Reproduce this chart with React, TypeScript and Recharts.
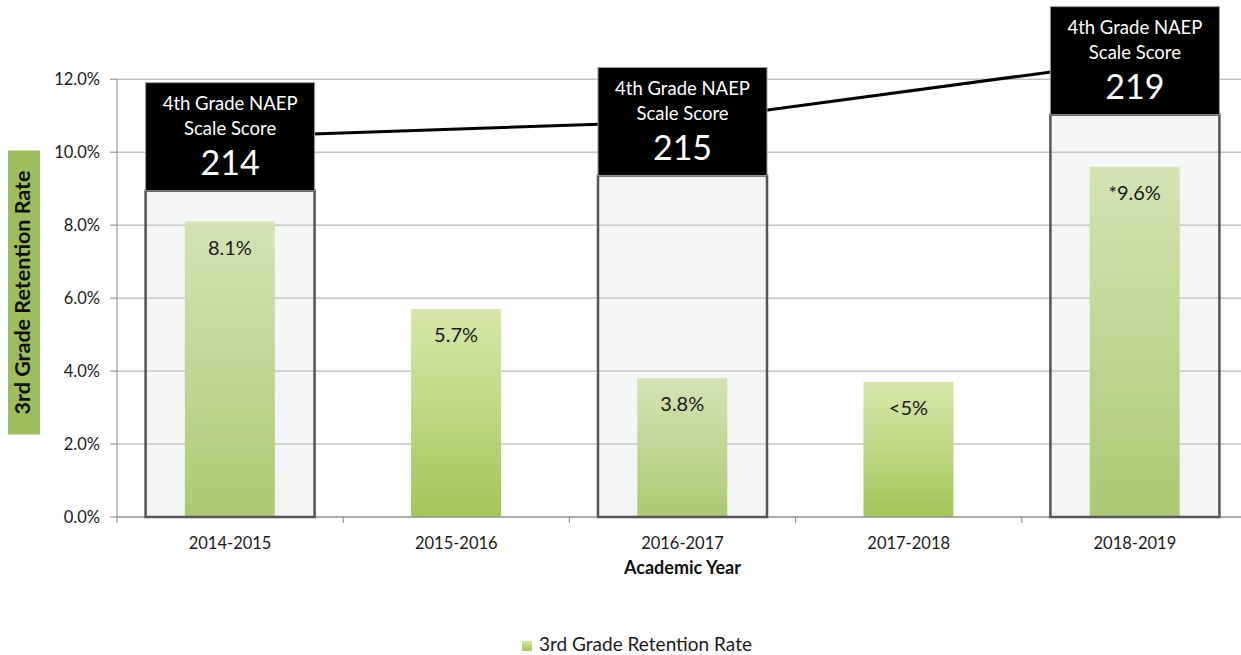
import React from 'react';
import * as Recharts from 'recharts';
import {
  ComposedChart, Bar, Line, XAxis, YAxis, CartesianGrid, Legend, LabelList, Label, ReferenceLine,
} from 'recharts';

const years = ['2014-2015', '2015-2016', '2016-2017', '2017-2018', '2018-2019'];
const retentionRate = [8.1, 5.7, 3.8, 3.7, 9.6];
const rateLabels = ['8.1%', '5.7%', '3.8%', '<5%', '*9.6%'];
const naepScores: (number | null)[] = [214, null, 215, null, 219];
const yTicks = [0, 2, 4, 6, 8, 10, 12];
const headerLines = ['4th Grade NAEP', 'Scale Score'];
const naepDomain: [number, number] = [189, 219.7];

const data = years.map((year, i) => ({
  year,
  rate: retentionRate[i],
  label: rateLabels[i],
  naep: naepScores[i],
}));

const FONT = 'Lato, "Open Sans", sans-serif';
const BOX_W = 169;
const BOX_H = 108;

const usePlotArea: () => any = (Recharts as any).usePlotArea ?? (() => null);

const NaepBox = (props: any) => {
  const { cx, cy, value, points } = props;
  const area = usePlotArea();
  if (cx == null || cy == null || value == null) return null;

  let bottom = area ? area.y + area.height : 0;
  if (!area && points) {
    const valid = points.filter((p: any) => p.value != null && p.y != null);
    const a = valid[0];
    const b = valid[valid.length - 1];
    const per = (a.y - b.y) / (b.value - a.value);
    bottom = cy + (value - naepDomain[0]) * per;
  }

  const left = cx - BOX_W / 2;
  const top = cy - BOX_H / 2;
  return (
    <g>
      <rect
        x={left}
        y={top + BOX_H}
        width={BOX_W}
        height={bottom - top - BOX_H}
        fill="rgba(205,214,214,0.22)"
        stroke="#555"
        strokeWidth={2.5}
      />
      <rect x={left} y={top} width={BOX_W} height={BOX_H} fill="#000" stroke="#9a9a9a" strokeWidth={1} />
      <text x={cx} y={cy - 31} fill="#fff" fontSize={18.5} fontFamily={FONT} textAnchor="middle" dominantBaseline="middle">
        {headerLines[0]}
      </text>
      <text x={cx} y={cy - 6} fill="#fff" fontSize={18.5} fontFamily={FONT} textAnchor="middle" dominantBaseline="middle">
        {headerLines[1]}
      </text>
      <text x={cx} y={cy + 30} fill="#fff" fontSize={34} fontFamily={FONT} textAnchor="middle" dominantBaseline="middle">
        {value}
      </text>
    </g>
  );
};

const BarLabel = (props: any) => {
  const { x, y, width, value } = props;
  return (
    <text x={x + width / 2} y={y + 28} fill="#1a1a1a" fontSize={20} fontFamily={FONT} textAnchor="middle" dominantBaseline="middle">
      {value}
    </text>
  );
};

const YearTick = (props: any) => {
  const { x, y, payload, width, visibleTicksCount, index } = props;
  const half = width / visibleTicksCount / 2;
  const axisY = y - 8;
  return (
    <g>
      {index === 0 && <line x1={x - half} x2={x - half} y1={axisY} y2={axisY + 6} stroke="#888" />}
      <line x1={x + half} x2={x + half} y1={axisY} y2={axisY + 6} stroke="#888" />
      <text x={x} y={y + 20} fill="#1a1a1a" fontSize={16.5} fontFamily={FONT} textAnchor="middle" dominantBaseline="middle">
        {payload.value}
      </text>
    </g>
  );
};

const YTitle = (props: any) => {
  const { viewBox } = props;
  const cx = viewBox.x + 24;
  const cy = viewBox.y + viewBox.height / 2 + 9;
  return (
    <g>
      <rect x={cx - 16} y={cy - 142} width={32} height={284} fill="#9dbd5f" />
      <text
        x={cx}
        y={cy}
        transform={`rotate(-90, ${cx}, ${cy})`}
        fontSize={21.5}
        fontWeight="bold"
        fontFamily={FONT}
        fill="#111"
        textAnchor="middle"
        dominantBaseline="middle"
      >
        3rd Grade Retention Rate
      </text>
    </g>
  );
};

const XTitle = (props: any) => {
  const { viewBox } = props;
  return (
    <text
      x={viewBox.x + viewBox.width / 2}
      y={viewBox.y + 52}
      fontSize={18}
      fontWeight="bold"
      fontFamily={FONT}
      fill="#111"
      textAnchor="middle"
      dominantBaseline="middle"
    >
      Academic Year
    </text>
  );
};

const LegendContent = () => (
  <div style={{ width: '100%', height: 40, textAlign: 'center', paddingLeft: 26, boxSizing: 'border-box', paddingTop: 17 }}>
    <span style={{ display: 'inline-block', width: 10, height: 10, marginRight: 7, background: 'linear-gradient(#d7e7ab, #a3c65a)' }} />
    <span style={{ fontFamily: FONT, fontSize: 19, color: '#1a1a1a' }}>3rd Grade Retention Rate</span>
  </div>
);

export default function App() {
  return (
    <div style={{ position: 'absolute', left: 0, top: 0, width: 1241, height: 655, overflow: 'hidden', background: '#fff' }}>
      <ComposedChart width={1248} height={655} data={data} margin={{ top: 50, right: 0, bottom: 0, left: 0 }} barCategoryGap="30%">
        <defs>
          <linearGradient id="barGrad" x1="0" y1="0" x2="0" y2="1">
            <stop offset="0%" stopColor="#d7e7ab" />
            <stop offset="100%" stopColor="#a3c65a" />
          </linearGradient>
        </defs>
        <CartesianGrid vertical={false} stroke="#a8a8a8" horizontalValues={yTicks} />
        <XAxis
          dataKey="year"
          height={98}
          axisLine={{ stroke: '#888' }}
          tickLine={false}
          tick={<YearTick />}
          interval={0}
        >
          <Label content={<XTitle />} />
        </XAxis>
        <YAxis
          width={117}
          domain={[0, 12.8]}
          ticks={yTicks}
          axisLine={false}
          tickLine={{ stroke: '#888' }}
          tickSize={7}
          tickMargin={10}
          tickFormatter={(v: number) => `${v.toFixed(1)}%`}
          tick={{ fill: '#1a1a1a', fontSize: 16.5, fontFamily: FONT }}
        >
          <Label content={<YTitle />} />
        </YAxis>
        <YAxis yAxisId="naep" orientation="right" hide domain={naepDomain} />
        <ReferenceLine segment={[{ x: years[0], y: 0 }, { x: years[0], y: 12 }]} position="start" stroke="#888" />
        <Line
          yAxisId="naep"
          dataKey="naep"
          type="linear"
          stroke="#000"
          strokeWidth={3}
          connectNulls
          dot={<NaepBox />}
          activeDot={false}
          isAnimationActive={false}
          {...({ zIndex: 250 } as any)}
        />
        <Bar dataKey="rate" fill="url(#barGrad)" isAnimationActive={false}>
          <LabelList dataKey="label" content={<BarLabel />} />
        </Bar>
        <Legend verticalAlign="bottom" height={40} content={<LegendContent />} />
      </ComposedChart>
    </div>
  );
}
